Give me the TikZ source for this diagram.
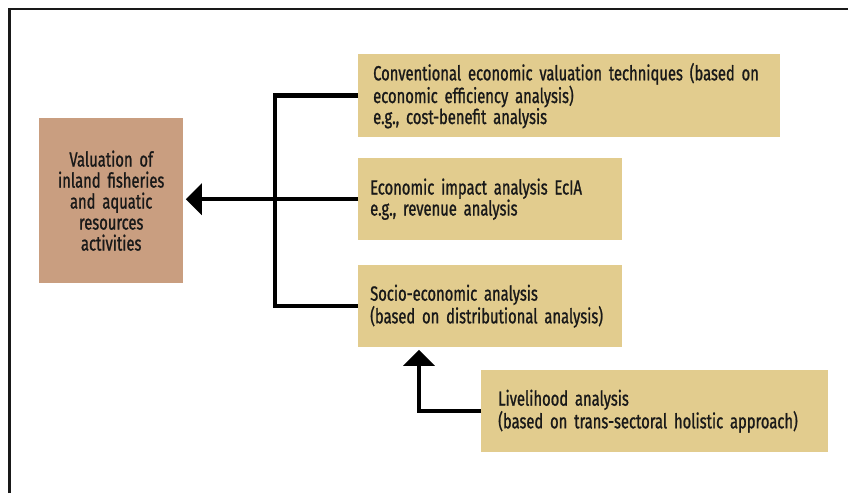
\documentclass[tikz,border=0pt]{standalone}
\usepackage{fontspec}
\setmainfont[FakeStretch=0.72, FakeBold=1]{Fira Sans}
\usetikzlibrary{arrows.meta,positioning}
\definecolor{valbrown}{HTML}{C99E80}
\definecolor{boxtan}{HTML}{E2CC8E}

\begin{document}
\begin{tikzpicture}
		[x=1pt, y=-1pt,
		block/.style ={rectangle, fill=boxtan, anchor=north west, inner ysep=0pt, align=left, font=\fontsize{20.5}{21}\selectfont, text=black!90},
		line/.style ={draw, line width=4.5pt},
		arrow/.style ={draw, line width=4.5pt, -{Triangle[width=31pt,length=16pt]}, shorten >=2.5pt}]
		\useasboundingbox (0,0) rectangle (848,493);
		\draw[line width=2.5pt, black!90] (9.5,493) -- (9.5,9) -- (848,9);
		
		\node[block, fill=valbrown, align=center, text width=144pt, inner xsep=0pt, minimum height=165pt] (valuation) at (39,118) {Valuation of\\inland fisheries\\and aquatic\\resources\\activities};
		\node[block, text width=392pt, inner xsep=15pt, minimum height=83pt] (conv) at (358,54) {Conventional economic valuation techniques (based on\\economic efficiency analysis)\\e.g., cost-benefit analysis};
		\node[block, text width=240pt, inner xsep=12pt, minimum height=82pt] (impact) at (358,158) {Economic impact analysis EcIA\\e.g., revenue analysis};
		\node[block, text width=240pt, inner xsep=12pt, minimum height=82pt] (socio) at (358,265) {Socio-economic analysis\\(based on distributional analysis)};
		\node[block, text width=313pt, inner xsep=17pt, minimum height=82pt] (liveli) at (481,370) {Livelihood analysis\\(based on trans-sectoral holistic approach)};
		
		\draw[line] (conv.west) -| ([xshift=-83pt]impact.west) |- (socio.west);
		\draw[arrow] (impact.west) -- (impact.west -| valuation.east);
		\draw[arrow] (liveli.west) -| ([xshift=61pt]socio.south west);

	\end{tikzpicture}
\end{document}
